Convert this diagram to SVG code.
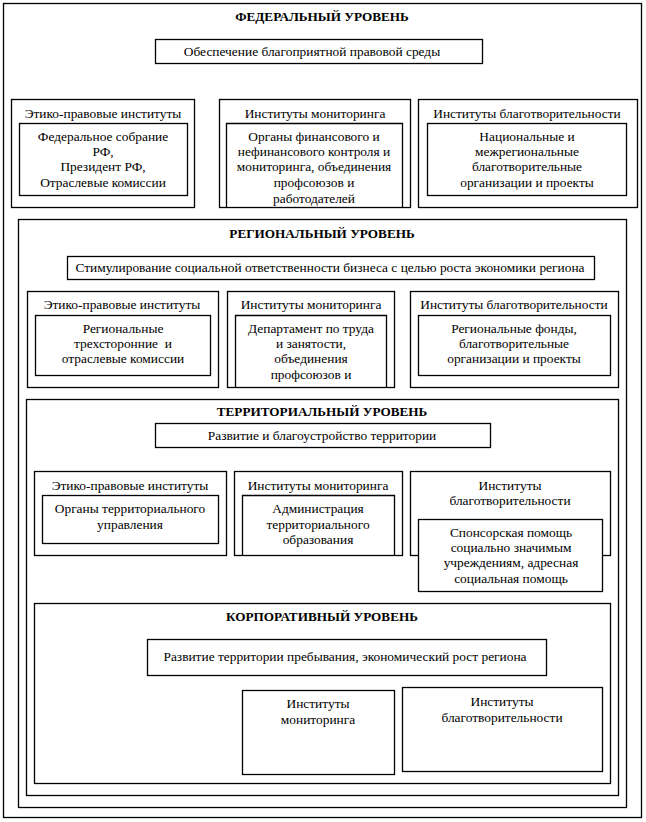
<svg xmlns="http://www.w3.org/2000/svg" width="646" height="822" viewBox="0 0 646 822" font-family="'Liberation Serif', 'Times New Roman', serif">
<style>
rect, path { fill: #fff; stroke: #000; stroke-width: 1.3; }
path.open { fill: none; }
text { font-family: "Liberation Serif", "Times New Roman", "DejaVu Serif", serif; font-size: 13.4px; fill: #000; text-anchor: middle; }
text.h { font-weight: bold; font-size: 13.2px; }
</style>
<defs>
<clipPath id="c1"><rect x="226" y="123" width="177" height="83"/></clipPath>
<clipPath id="c2"><rect x="235" y="315" width="152" height="71"/></clipPath>
<clipPath id="c3"><rect x="242" y="495" width="152" height="59"/></clipPath>
</defs>
<g id="federal">
<rect x="3.5" y="3.5" width="638" height="814"/>
<text class="h" x="322" y="21">ФЕДЕРАЛЬНЫЙ УРОВЕНЬ</text>
</g>
<g id="fed-goal">
<rect x="155.5" y="39.5" width="327" height="24"/>
<text x="312" y="56">Обеспечение благоприятной правовой среды</text>
</g>
<g id="fed-ethics">
<rect x="11.5" y="99.5" width="183" height="108"/>
<text x="103" y="118">Этико-правовые институты</text>
<rect x="19.5" y="123.5" width="168" height="72"/>
<text x="103" y="141">Федеральное собрание</text>
<text x="103" y="156">РФ,</text>
<text x="103" y="171">Президент РФ,</text>
<text x="103" y="187">Отраслевые комиссии</text>
</g>
<g id="fed-monitoring">
<rect x="219.5" y="99.5" width="191" height="108"/>
<text x="315" y="118">Институты мониторинга</text>
<path class="open" d="M226.5,207 V123.5 H402.5 V207"/>
<g clip-path="url(#c1)">
<text x="314" y="141">Органы финансового и</text>
<text x="314" y="156">нефинансового контроля и</text>
<text x="314" y="171">мониторинга, объединения</text>
<text x="314" y="187">профсоюзов и</text>
<text x="314" y="203">работодателей</text>
</g>
</g>
<g id="fed-charity">
<rect x="418.5" y="99.5" width="219" height="108"/>
<text x="527" y="118">Институты благотворительности</text>
<rect x="427.5" y="123.5" width="199" height="72"/>
<text x="527" y="141">Национальные и</text>
<text x="527" y="156">межрегиональные</text>
<text x="527" y="171">благотворительные</text>
<text x="527" y="187">организации и проекты</text>
</g>
<g id="regional">
<rect x="18.5" y="219.5" width="608" height="588"/>
<text class="h" x="322" y="238">РЕГИОНАЛЬНЫЙ УРОВЕНЬ</text>
</g>
<g id="reg-goal">
<rect x="67.5" y="256.5" width="527" height="23"/>
<text x="330" y="272">Стимулирование социальной ответственности бизнеса с целью роста экономики региона</text>
</g>
<g id="reg-ethics">
<rect x="27.5" y="291.5" width="191" height="96"/>
<text x="122" y="309">Этико-правовые институты</text>
<rect x="35.5" y="315.5" width="175" height="60"/>
<text x="123" y="333">Региональные</text>
<text x="123" y="348" xml:space="preserve">трехсторонние  и</text>
<text x="123" y="363">отраслевые комиссии</text>
</g>
<g id="reg-monitoring">
<rect x="227.5" y="291.5" width="167" height="96"/>
<text x="311" y="309">Институты мониторинга</text>
<path class="open" d="M235.5,387 V315.5 H386.5 V387"/>
<g clip-path="url(#c2)">
<text x="311" y="333">Департамент по труда</text>
<text x="311" y="348">и занятости,</text>
<text x="311" y="363">объединения</text>
<text x="311" y="379">профсоюзов и</text>
</g>
</g>
<g id="reg-charity">
<rect x="410.5" y="291.5" width="208" height="96"/>
<text x="514" y="309">Институты благотворительности</text>
<rect x="418.5" y="315.5" width="192" height="60"/>
<text x="514" y="333">Региональные фонды,</text>
<text x="514" y="348">благотворительные</text>
<text x="514" y="363">организации и проекты</text>
</g>
<g id="territorial">
<rect x="26.5" y="399.5" width="592" height="396"/>
<text class="h" x="322" y="416">ТЕРРИТОРИАЛЬНЫЙ УРОВЕНЬ</text>
</g>
<g id="ter-goal">
<rect x="155.5" y="423.5" width="335" height="24"/>
<text x="322" y="440">Развитие и благоустройство территории</text>
</g>
<g id="ter-ethics">
<rect x="34.5" y="471.5" width="192" height="84"/>
<text x="130" y="490">Этико-правовые институты</text>
<rect x="42.5" y="495.5" width="176" height="48"/>
<text x="130" y="513">Органы территориального</text>
<text x="130" y="529">управления</text>
</g>
<g id="ter-monitoring">
<rect x="234.5" y="471.5" width="168" height="84"/>
<text x="318" y="490">Институты мониторинга</text>
<path class="open" d="M242.5,555 V495.5 H394.5 V555"/>
<g clip-path="url(#c3)">
<text x="318" y="513">Администрация</text>
<text x="318" y="529">территориального</text>
<text x="318" y="544">образования</text>
</g>
</g>
<g id="ter-charity">
<rect x="410.5" y="471.5" width="200" height="84"/>
<text x="510" y="490">Институты</text>
<text x="510" y="505">благотворительности</text>
<rect x="418.5" y="519.5" width="184" height="72"/>
<text x="511" y="537">Спонсорская помощь</text>
<text x="511" y="552">социально значимым</text>
<text x="511" y="567">учреждениям, адресная</text>
<text x="511" y="583">социальная помощь</text>
</g>
<g id="corporate">
<rect x="34.5" y="603.5" width="576" height="180"/>
<text class="h" x="322" y="621">КОРПОРАТИВНЫЙ УРОВЕНЬ</text>
</g>
<g id="corp-goal">
<rect x="147.5" y="639.5" width="399" height="36"/>
<text x="345" y="661">Развитие территории пребывания, экономический рост региона</text>
</g>
<g id="corp-monitoring">
<rect x="242.5" y="690.5" width="152" height="84"/>
<text x="318" y="708">Институты</text>
<text x="318" y="724">мониторинга</text>
</g>
<g id="corp-charity">
<rect x="402.5" y="687.5" width="200" height="84"/>
<text x="502" y="706">Институты</text>
<text x="502" y="722">благотворительности</text>
</g>
<g id="connectors"></g>
</svg>
